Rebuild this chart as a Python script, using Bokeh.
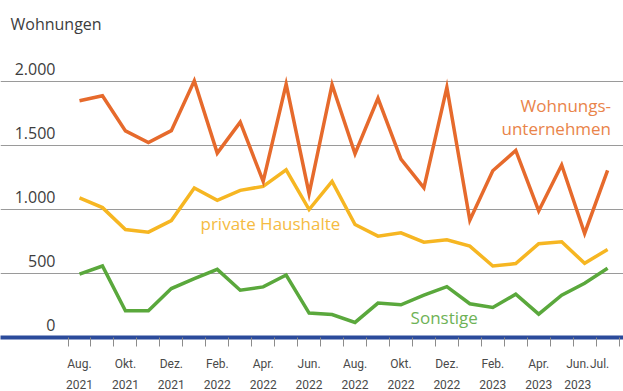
from bokeh.plotting import figure
from bokeh.models import ColumnDataSource, FixedTicker, LinearAxis, Grid, Range1d, Label
from bokeh.core.properties import value
from bokeh.embed import file_html
from bokeh.resources import INLINE

# ---- data -------------------------------------------------------------
months = ["Aug. 2021", "Sep. 2021", "Okt. 2021", "Nov. 2021", "Dez. 2021",
          "Jan. 2022", "Feb. 2022", "Mär. 2022", "Apr. 2022", "Mai 2022",
          "Jun. 2022", "Jul. 2022", "Aug. 2022", "Sep. 2022", "Okt. 2022",
          "Nov. 2022", "Dez. 2022", "Jan. 2023", "Feb. 2023", "Mär. 2023",
          "Apr. 2023", "Mai 2023", "Jun. 2023", "Jul. 2023"]
wohnungsunternehmen = [1852, 1891, 1616, 1525, 1618, 2008, 1442, 1684, 1221, 1982,
                       1125, 1978, 1437, 1871, 1396, 1170, 1956, 917, 1304, 1463,
                       990, 1349, 814, 1307]
private_haushalte = [1092, 1016, 845, 824, 915, 1170, 1073, 1151, 1182, 1312,
                     1001, 1221, 884, 793, 819, 746, 765, 715, 559, 578,
                     734, 749, 580, 689]
sonstige = [495, 559, 209, 209, 383, 461, 533, 370, 396, 489,
            191, 180, 118, 269, 256, 331, 398, 264, 235, 339,
            183, 331, 424, 541]
y_ticks = [0, 500, 1000, 1500, 2000]
y_tick_labels = ["0", "500", "1.000", "1.500", "2.000"]
month_tick_labels = ["Aug.", "Okt.", "Dez.", "Feb.", "Apr.", "Jun.",
                     "Aug.", "Okt.", "Dez.", "Feb.", "Apr.", "Jun.", "Jul."]
year_tick_labels = ["2021", "2021", "2021", "2022", "2022", "2022",
                    "2022", "2022", "2022", "2023", "2023", "2023"]

# ---- layout -------------------------------------------------------------
idx = list(range(len(months)))
label_pos = list(range(0, 23, 2)) + [23]
label_pos[-2] = label_pos[-2] - 0.3    # squeeze the last two labels
label_pos[-1] = label_pos[-1] - 0.35
year_pos = label_pos[:-1]
sep_pos = [i - 0.5 for i in range(len(months) + 1)]

ORANGE = "#e66a2c"
YELLOW = "#f6b622"
GREEN = "#5aa83c"
BLUE = "#2b4b9b"
FONT = "Open Sans"
TICKFONT = "Roboto"
SHIFT = 47  # text placement correction (data units, ~6px)

source = ColumnDataSource(data=dict(x=idx, wu=wohnungsunternehmen,
                                    ph=private_haushalte, so=sonstige))

p = figure(width=623, height=391, output_backend="svg", toolbar_location=None,
           x_range=Range1d(-3.441, 23.693), y_range=Range1d(0, 2636),
           x_axis_type=None, y_axis_type=None,
           min_border_left=0, min_border_right=0, min_border_top=0,
           min_border_bottom=53, outline_line_color=None,
           background_fill_color="white", border_fill_color="white")

p.add_layout(Grid(dimension=1, ticker=FixedTicker(ticks=y_ticks[1:]),
                  grid_line_color="#9a9a9a", grid_line_width=1))

p.line("x", "so", source=source, line_color=GREEN, line_width=3.5, line_join="miter")
p.line("x", "ph", source=source, line_color=YELLOW, line_width=3.5, line_join="miter")
p.line("x", "wu", source=source, line_color=ORANGE, line_width=3.5, line_join="miter")

# y tick labels sit above the grid lines
ysrc = ColumnDataSource(data=dict(x=[-1.045] * len(y_ticks), y=y_ticks, t=y_tick_labels))
p.text("x", "y", text="t", source=ysrc, text_align="right", text_baseline="alphabetic",
       y_offset=-13, text_font=value(FONT), text_font_size="16px", text_color="#3d3d3d")

p.add_layout(Label(x=-3.005, y=2408 + SHIFT, text="Wohnungen", text_font=FONT,
                   text_font_size="16px", text_color="#3d3d3d",
                   text_baseline="alphabetic", text_align="left"))

p.add_layout(Label(x=23.15, y=1771 + SHIFT, text="Wohnungs-", text_font=FONT,
                   text_font_size="17px", text_color="#e9844a",
                   text_baseline="alphabetic", text_align="right"))
p.add_layout(Label(x=23.15, y=1591 + SHIFT, text="unternehmen", text_font=FONT,
                   text_font_size="17px", text_color="#e9844a",
                   text_baseline="alphabetic", text_align="right"))
p.add_layout(Label(x=5.27, y=842 + SHIFT, text="private Haushalte", text_font=FONT,
                   text_font_size="17px", text_color="#f5bb42",
                   text_baseline="alphabetic", text_align="left"))
p.add_layout(Label(x=14.42, y=109 + SHIFT, text="Sonstige", text_font=FONT,
                   text_font_size="17px", text_color="#6eb256",
                   text_baseline="alphabetic", text_align="left"))

ax1 = LinearAxis(ticker=FixedTicker(ticks=label_pos, minor_ticks=sep_pos),
                 major_label_overrides=dict(zip(label_pos, month_tick_labels)),
                 axis_line_color=BLUE, axis_line_width=4,
                 major_tick_line_color=None, major_tick_in=0, major_tick_out=0,
                 minor_tick_line_color="#8c8c8c", minor_tick_in=0, minor_tick_out=9,
                 minor_tick_line_width=1, major_label_standoff=10,
                 major_label_text_font=TICKFONT, major_label_text_font_size="12px",
                 major_label_text_color="#4a4a4a")
p.add_layout(ax1, "below")
ax2 = LinearAxis(ticker=FixedTicker(ticks=year_pos, minor_ticks=[]),
                 major_label_overrides=dict(zip(year_pos, year_tick_labels)),
                 axis_line_color=None, major_tick_line_color=None,
                 minor_tick_line_color=None, major_tick_in=0, major_tick_out=0,
                 minor_tick_in=0, minor_tick_out=0, major_label_standoff=6,
                 major_label_text_font=TICKFONT, major_label_text_font_size="12px",
                 major_label_text_color="#4a4a4a")
p.add_layout(ax2, "below")

open("out.html", "w").write(file_html(p, INLINE))
